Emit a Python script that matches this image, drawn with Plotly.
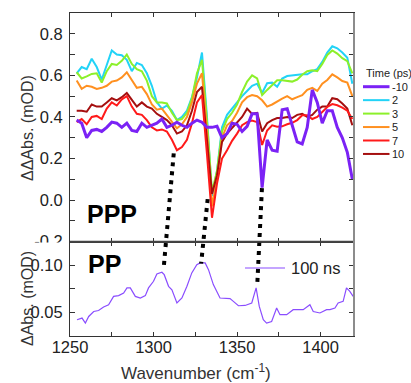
import plotly.graph_objects as go

# ---------------- data ----------------
wavenumber = [1254, 1257, 1260, 1263, 1266, 1269, 1272, 1275, 1278, 1281,
              1284, 1287, 1290, 1293, 1296, 1299, 1302, 1305, 1308, 1311,
              1314, 1317, 1320, 1323, 1326, 1329, 1332, 1335, 1338, 1341,
              1344, 1347, 1350, 1353, 1356, 1359, 1362, 1365, 1368, 1371,
              1374, 1377, 1380, 1383, 1386, 1389, 1392, 1395, 1398, 1401,
              1404, 1407, 1410, 1413, 1416, 1419]

ppp_m10 = [0.385, 0.37, 0.30, 0.335, 0.34, 0.33, 0.35, 0.375, 0.37, 0.35,
           0.37, 0.335, 0.33, 0.37, 0.35, 0.36, 0.37, 0.39, 0.35, 0.36,
           0.375, 0.36, 0.35, 0.37, 0.385, 0.375, 0.35, 0.35, 0.355, 0.30,
           0.32, 0.37, 0.365, 0.33, 0.355, 0.415, 0.415, 0.06, 0.29, 0.24,
           0.235, 0.435, 0.44, 0.36, 0.28, 0.27, 0.35, 0.53, 0.47, 0.37,
           0.43, 0.43, 0.35, 0.30, 0.23, 0.10]
ppp_2 = [0.61, 0.64, 0.63, 0.68, 0.64, 0.58, 0.65, 0.72, 0.70, 0.697,
         0.675, 0.62, 0.66, 0.65, 0.61, 0.55, 0.47, 0.44, 0.455, 0.43,
         0.385, 0.40, 0.43, 0.495, 0.59, 0.71, 0.40, 0.02, 0.14, 0.35,
         0.41, 0.44, 0.475, 0.50, 0.525, 0.55, 0.56, 0.515, 0.562, 0.565,
         0.545, 0.585, 0.597, 0.60, 0.60, 0.605, 0.605, 0.62, 0.63, 0.665,
         0.71, 0.74, 0.73, 0.71, 0.685, 0.56]
ppp_3 = [0.615, 0.585, 0.595, 0.607, 0.61, 0.565, 0.62, 0.655, 0.65, 0.67,
         0.70, 0.655, 0.63, 0.62, 0.575, 0.50, 0.47, 0.47, 0.465, 0.42,
         0.385, 0.39, 0.42, 0.49, 0.61, 0.675, 0.38, 0.04, 0.14, 0.33,
         0.39, 0.42, 0.46, 0.52, 0.57, 0.60, 0.585, 0.505, 0.53, 0.552,
         0.576, 0.576, 0.572, 0.57, 0.58, 0.603, 0.62, 0.625, 0.62, 0.655,
         0.698, 0.72, 0.705, 0.683, 0.668, 0.61]
ppp_5 = [0.575, 0.535, 0.55, 0.545, 0.535, 0.54, 0.55, 0.57, 0.575, 0.59,
         0.615, 0.575, 0.54, 0.545, 0.51, 0.46, 0.435, 0.44, 0.41, 0.38,
         0.345, 0.365, 0.40, 0.47, 0.56, 0.61, 0.33, -0.03, 0.10, 0.30,
         0.36, 0.38, 0.42, 0.47, 0.495, 0.505, 0.50, 0.48, 0.45, 0.46,
         0.475, 0.488, 0.50, 0.485, 0.495, 0.505, 0.53, 0.54, 0.525, 0.56,
         0.578, 0.605, 0.59, 0.573, 0.565, 0.50]
ppp_7 = [0.375, 0.39, 0.365, 0.40, 0.405, 0.39, 0.44, 0.47, 0.455, 0.485,
         0.50, 0.45, 0.415, 0.41, 0.385, 0.35, 0.335, 0.34, 0.33, 0.29,
         0.24, 0.255, 0.29, 0.37, 0.47, 0.505, 0.22, -0.085, 0.08, 0.20,
         0.24, 0.285, 0.32, 0.36, 0.375, 0.383, 0.375, 0.265, 0.335, 0.36,
         0.353, 0.355, 0.365, 0.372, 0.385, 0.408, 0.408, 0.39, 0.40, 0.425,
         0.448, 0.462, 0.456, 0.445, 0.43, 0.39]
ppp_10 = [0.43, 0.43, 0.425, 0.46, 0.45, 0.45, 0.47, 0.49, 0.48, 0.495,
          0.515, 0.48, 0.45, 0.47, 0.45, 0.44, 0.415, 0.40, 0.385, 0.36,
          0.32, 0.33, 0.36, 0.43, 0.52, 0.545, 0.30, 0.03, 0.12, 0.28,
          0.32, 0.345, 0.375, 0.40, 0.44, 0.415, 0.42, 0.33, 0.37, 0.385,
          0.395, 0.395, 0.40, 0.395, 0.41, 0.415, 0.40, 0.41, 0.435, 0.45,
          0.45, 0.49, 0.485, 0.465, 0.44, 0.36]

time_labels = ["-10", "2", "3", "5", "7", "10"]
time_colors = ["#7b22f5", "#22d3f7", "#8cf02a", "#ff9020", "#ff1a1a", "#a50f0f"]
time_widths = [3, 2, 2, 2, 2, 2]
ppp_series = [ppp_m10, ppp_2, ppp_3, ppp_5, ppp_7, ppp_10]

wn_pp = [1254.2, 1257.2, 1259.2, 1261.2, 1264.2, 1267.1, 1270.1, 1273.1, 1276.1,
         1279.1, 1282.1, 1284.1, 1286.1, 1289.1, 1292.1, 1295.1, 1297.0, 1300.0,
         1302.0, 1305.0, 1306.4, 1309.0, 1311.0, 1314.0, 1317.0, 1320.0, 1322.9,
         1325.9, 1327.9, 1330.9, 1332.9, 1335.8, 1339.8, 1345.8, 1347.8, 1350.8,
         1354.8, 1358.8, 1361.4, 1363.3, 1365.7, 1367.7, 1370.7, 1373.7, 1375.7,
         1379.7, 1383.6, 1389.6, 1393.6, 1395.6, 1399.6, 1403.6, 1405.6, 1408.6,
         1410.5, 1413.5, 1415.5, 1417.5, 1419.5]
pp_100ns = [0.0422, 0.0440, 0.0387, 0.0457, 0.0510, 0.0520, 0.0557, 0.0580, 0.0670,
            0.0678, 0.0706, 0.0760, 0.0760, 0.0670, 0.0653, 0.0678, 0.0760, 0.0830,
            0.0908, 0.0926, 0.0900, 0.0777, 0.0740, 0.0600, 0.0653, 0.0777, 0.0919,
            0.1007, 0.1025, 0.1025, 0.0954, 0.0795, 0.0653, 0.0646, 0.0617, 0.0571,
            0.0574, 0.0600, 0.0760, 0.0564, 0.0422, 0.0387, 0.0404, 0.0547, 0.0476,
            0.0476, 0.0529, 0.0529, 0.0582, 0.0510, 0.0494, 0.0529, 0.0529, 0.0547,
            0.0600, 0.0617, 0.0760, 0.0723, 0.0670]

# dotted connectors: (wavenumber, ΔΔAbs in PPP panel) -> (wavenumber, ΔAbs in PP panel)
connect_top_x = [1312.1, 1332.4, 1364.9]
connect_top_y = [0.225, 0.005, 0.058]
connect_bot_x = [1306.0, 1328.5, 1362.1]
connect_bot_y = [0.0954, 0.1018, 0.0795]

x_range = [1250, 1420]
top_y_range = [-0.2, 0.9]
bot_y_range = [0.025, 0.125]
top_ytick_vals = [-0.2, 0.0, 0.2, 0.4, 0.6, 0.8]
top_ytick_text = ["-0.2", "0.0", "0.2", "0.4", "0.6", "0.8"]
bot_ytick_vals = [0.05, 0.10]
bot_ytick_text = ["0.05", "0.10"]
xtick_vals = [1250, 1300, 1350, 1400]
xtick_text = ["1250", "1300", "1350", "1400"]

# ---------------- layout geometry ----------------
W, H = 411, 383
ML, MR, MT, MB = 70, 57, 13, 47
PW, PH = W - ML - MR, H - MT - MB
split = 94.3 / PH  # bottom panel fraction

def px_x(px):
    return (px - ML) / PW

def py_y(py):
    return (H - MB - py) / PH

def top_paper(v):
    return split + (v - top_y_range[0]) / (top_y_range[1] - top_y_range[0]) * (1 - split)

def bot_paper(v):
    return (v - bot_y_range[0]) / (bot_y_range[1] - bot_y_range[0]) * split

FONT = "Arial, Liberation Sans, sans-serif"
AX = "#333333"

fig = go.Figure()

order = [1, 2, 3, 5, 4, 0]
for i in order:
    fig.add_trace(go.Scatter(x=wavenumber, y=ppp_series[i], mode="lines",
                             name=time_labels[i], showlegend=False,
                             line=dict(color=time_colors[i], width=time_widths[i]),
                             xaxis="x", yaxis="y"))

fig.add_trace(go.Scatter(x=wn_pp, y=pp_100ns, mode="lines", name="100 ns",
                         showlegend=False, line=dict(color="#8a4dff", width=1.2),
                         xaxis="x2", yaxis="y2"))

common_x = dict(range=x_range, showline=True, linecolor=AX, linewidth=1, mirror="ticks",
                ticks="inside", ticklen=4, tickcolor=AX, tickvals=xtick_vals,
                minor=dict(tickvals=[1275, 1325, 1375], ticks="inside", ticklen=4, tickcolor=AX),
                showgrid=False, zeroline=False)

fig.update_layout(
    width=W, height=H, margin=dict(l=ML, r=MR, t=MT, b=MB, autoexpand=False),
    paper_bgcolor="white", plot_bgcolor="white",
    font=dict(family=FONT, size=16, color="#222222"),
    xaxis=dict(common_x, anchor="y", showticklabels=False, domain=[0, 1]),
    xaxis2=dict(common_x, anchor="y2", ticktext=xtick_text, domain=[0, 1],
                tickfont=dict(size=16.5), ticklabelstandoff=-4),
    yaxis=dict(domain=[split, 1], range=top_y_range, tickvals=top_ytick_vals,
               ticktext=top_ytick_text, showline=True, linecolor=AX, mirror="ticks",
               ticks="inside", ticklen=5, tickcolor=AX, showgrid=False, zeroline=False,
               minor=dict(tickvals=[-0.1, 0.1, 0.3, 0.5, 0.7], ticks="inside", ticklen=5, tickcolor=AX),
               tickfont=dict(size=16.5), ticklabelstandoff=3),
    yaxis2=dict(domain=[0, split], range=bot_y_range, tickvals=bot_ytick_vals,
                ticktext=bot_ytick_text, showline=True, linecolor=AX, mirror="ticks",
                ticks="inside", ticklen=5, tickcolor=AX, showgrid=False, zeroline=False,
                minor=dict(tickvals=[0.075, 0.1], ticks="inside", ticklen=5, tickcolor=AX),
                tickfont=dict(size=16.5), ticklabelstandoff=3),
)

shapes = []
# dotted connectors
for xt, yt, xb, yb in zip(connect_top_x, connect_top_y, connect_bot_x, connect_bot_y):
    shapes.append(dict(type="line", xref="x", yref="paper", x0=xt, y0=top_paper(yt),
                       x1=xb, y1=bot_paper(yb),
                       line=dict(color="black", width=4, dash="4px,5px"), layer="above"))
# divider and grey right border
shapes.append(dict(type="line", xref="paper", yref="paper", x0=0, x1=1, y0=split, y1=split,
                   line=dict(color="#444444", width=2), layer="above"))
shapes.append(dict(type="line", xref="paper", yref="paper", x0=1, x1=1, y0=0, y1=1,
                   line=dict(color="#8c8c8c", width=2), layer="above"))
# clip lower half of the "-0.2" label behind the PP panel
shapes.append(dict(type="rect", xref="paper", yref="paper", x0=px_x(20), x1=px_x(68),
                   y0=py_y(251), y1=py_y(242.6), fillcolor="white", line=dict(width=0),
                   layer="above"))

annotations = []
# manual legend (Time)
annotations.append(dict(text="Time (ps)", xref="paper", yref="paper", x=px_x(363.5), y=py_y(73),
                        xanchor="left", yanchor="middle", showarrow=False,
                        font=dict(size=11, color="#222222")))
for k, (lab, col, wid) in enumerate(zip(time_labels, time_colors, time_widths)):
    ypix = 86.7 + 13.45 * k
    shapes.append(dict(type="line", xref="paper", yref="paper", x0=px_x(363), x1=px_x(389.5),
                       y0=py_y(ypix), y1=py_y(ypix), line=dict(color=col, width=wid)))
    annotations.append(dict(text=lab, xref="paper", yref="paper", x=px_x(389.5), y=py_y(ypix),
                            xanchor="left", yanchor="middle", showarrow=False,
                            font=dict(size=11, color="#222222")))
# manual legend (100 ns)
shapes.append(dict(type="line", xref="paper", yref="paper", x0=px_x(245), x1=px_x(285),
                   y0=py_y(268), y1=py_y(268), line=dict(color="#8a4dff", width=1.2)))
annotations.append(dict(text="100 ns", xref="paper", yref="paper", x=px_x(289), y=py_y(268),
                        xanchor="left", yanchor="middle", showarrow=False,
                        font=dict(size=16.5, color="#222222")))
# panel labels
annotations.append(dict(text="<b>PPP</b>", xref="paper", yref="paper", x=px_x(112), y=py_y(214),
                        xanchor="center", yanchor="middle", showarrow=False,
                        font=dict(size=25, color="black")))
annotations.append(dict(text="<b>PP</b>", xref="paper", yref="paper", x=px_x(104.5), y=py_y(264),
                        xanchor="center", yanchor="middle", showarrow=False,
                        font=dict(size=25, color="black")))
# axis titles
annotations.append(dict(text="ΔΔAbs. (mOD)", xref="paper", yref="paper", x=px_x(27), y=py_y(128),
                        xanchor="center", yanchor="middle", textangle=-90, showarrow=False,
                        font=dict(size=16, color="#333333")))
annotations.append(dict(text="ΔAbs. (mOD)", xref="paper", yref="paper", x=px_x(27), y=py_y(299),
                        xanchor="center", yanchor="middle", textangle=-90, showarrow=False,
                        font=dict(size=16, color="#333333")))
annotations.append(dict(text="Wavenumber (cm<sup>-1</sup>)", xref="paper", yref="paper",
                        x=px_x(196), y=py_y(372.3), xanchor="center", yanchor="middle",
                        showarrow=False, font=dict(size=17, color="#333333")))

fig.update_layout(shapes=shapes, annotations=annotations)
fig.write_html("out.html", config={"displayModeBar": False},
               post_script="document.body.style.margin='0';document.body.style.overflow='hidden';")
